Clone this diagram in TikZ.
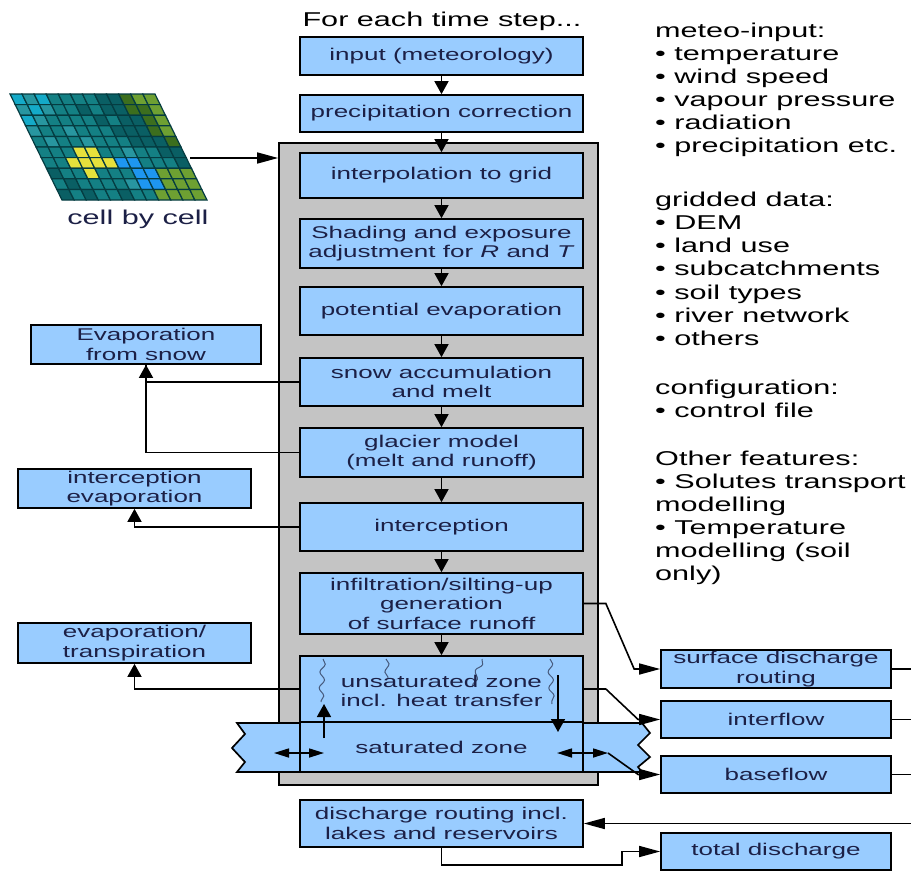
\documentclass[tikz,border=0pt]{standalone}
\usepackage{fontspec}
\setmainfont{Liberation Sans}[FakeStretch=1.53]
\usetikzlibrary{arrows.meta,decorations.pathmorphing,calc}
\definecolor{boxblue}{RGB}{153,204,255}
\definecolor{boxtext}{RGB}{28,32,70}
\definecolor{graybg}{RGB}{196,196,196}
\definecolor{wavecol}{RGB}{70,90,125}
\definecolor{gline}{RGB}{5,60,65}
\definecolor{cC}{RGB}{20,170,200}
\definecolor{cL}{RGB}{40,150,160}
\definecolor{cT}{RGB}{20,128,132}
\definecolor{cD}{RGB}{10,95,100}
\definecolor{cO}{RGB}{60,110,30}
\definecolor{cG}{RGB}{110,160,50}
\definecolor{cY}{RGB}{230,225,60}
\definecolor{cB}{RGB}{30,150,240}
\newcommand\gcell[3]{\filldraw[fill=c#3, draw=gline, line width=1.2pt] ({10+#1*12.08+#2*5.2},{94+#2*10.6}) -- ++(12.08,0) -- ++(5.2,10.6) -- ++(-12.08,0) -- cycle;}
\begin{document}
\begin{tikzpicture}[x=1pt,y=-1pt,line join=miter]
\tikzset{
 mbox/.style={draw=black, line width=1.7pt, fill=boxblue, text=boxtext, align=center, inner sep=0pt, font=\fontsize{17}{19.5}\selectfont, minimum width=283pt},
 lbox/.style={mbox, minimum width=233pt},
 rbox/.style={mbox, minimum width=230pt},
 conn/.style={line width=1.6pt, draw=black},
 varr/.style={conn, -{Triangle[length=13pt,width=14pt]}},
 harr/.style={conn, -{Triangle[length=21pt,width=11pt]}},
 darr/.style={conn, {Triangle[length=15pt,width=9pt]}-{Triangle[length=15pt,width=9pt]}},
 wave/.style={draw=wavecol, line width=1pt, decorate, decoration={snake, amplitude=2.5pt, segment length=16pt}},
 listtxt/.style={anchor=base west, inner sep=0pt, font=\fontsize{20}{23}\selectfont, text=black},
}
\useasboundingbox (0,0) rectangle (911,873);
\fill[white] (0,0) rectangle (911,873);

% title
\node[anchor=base, inner sep=0pt, font=\fontsize{20}{23}\selectfont] (title) at (442,26) {For each time step...};

% grid image
\foreach \c [count=\i from 0] in {C,L,C,T,T,T,T,D,D,O,G,G} {\gcell{\i}{0}{\c}}
\foreach \c [count=\i from 0] in {L,C,L,T,T,D,T,D,D,O,O,G} {\gcell{\i}{1}{\c}}
\foreach \c [count=\i from 0] in {C,L,T,T,T,T,D,T,D,D,O,G} {\gcell{\i}{2}{\c}}
\foreach \c [count=\i from 0] in {L,T,T,L,T,T,T,D,D,D,O,G} {\gcell{\i}{3}{\c}}
\foreach \c [count=\i from 0] in {T,L,T,T,L,T,T,T,D,D,D,O} {\gcell{\i}{4}{\c}}
\foreach \c [count=\i from 0] in {T,T,T,Y,Y,T,T,L,T,T,D,D} {\gcell{\i}{5}{\c}}
\foreach \c [count=\i from 0] in {T,T,Y,Y,Y,Y,B,B,T,T,T,D} {\gcell{\i}{6}{\c}}
\foreach \c [count=\i from 0] in {D,T,T,Y,T,T,T,B,B,G,G,G} {\gcell{\i}{7}{\c}}
\foreach \c [count=\i from 0] in {T,D,T,T,T,T,L,B,B,G,G,G} {\gcell{\i}{8}{\c}}
\foreach \c [count=\i from 0] in {D,T,D,T,T,D,T,T,G,G,G,G} {\gcell{\i}{9}{\c}}
\node[anchor=base, inner sep=0pt, font=\fontsize{20}{23}\selectfont, text=boxtext] (cbc) at (138,224) {cell by cell};

% container
\node[draw=black, line width=1.7pt, fill=graybg, minimum width=319pt, minimum height=642pt, inner sep=0pt] (cont) at (438.5,464) {};

% main boxes
\node[mbox, minimum height=38pt] (inp) at (441.5,56) {input (meteorology)};
\node[mbox, minimum height=37pt] (prc) at (441.5,113.5) {precipitation correction};
\node[mbox, minimum height=45pt] (itp) at (441.5,175.5) {interpolation to grid};
\node[mbox, minimum height=49pt] (shd) at (441.5,243.5) {Shading and exposure\\adjustment for \textit{R} and \textit{T}};
\node[mbox, minimum height=48pt] (pev) at (441.5,311) {potential evaporation};
\node[mbox, minimum height=48pt] (snw) at (441.5,382) {snow accumulation\\and melt};
\node[mbox, minimum height=49pt] (glc) at (441.5,452.5) {glacier model\\(melt and runoff)};
\node[mbox, minimum height=48pt] (icp) at (441.5,527) {interception};
\node[mbox, minimum height=61pt] (inf) at (441.5,603.5) {infiltration/silting-up\\generation\\of surface runoff};

% saturated band
\filldraw[fill=boxblue, draw=black, line width=1.7pt] (237,723) -- (642,723) -- (650,733) -- (638,745) -- (650,757) -- (638,767) -- (642,772) -- (237,772) -- (245,762) -- (232,748) -- (245,734) -- cycle;
\node[mbox, minimum height=50pt] (sat) at (441.5,747) {saturated zone};
\node[mbox, minimum height=66pt] (uns) at (441.5,689) {};
\draw[wave] (323,659) -- (321,702);
\draw[wave] (386,659) -- (388,678);
\draw[wave] (482,659) -- (472,687);
\draw[wave] (550,659) -- (552,704);
\node[text=boxtext, align=center, inner sep=0pt, font=\fontsize{17}{19.5}\selectfont] (unstxt) at (441.5,691) {unsaturated zone\\incl. heat transfer};

\node[mbox, minimum height=47pt] (dis) at (441.5,823.5) {discharge routing incl.\\lakes and reservoirs};

% left boxes
\node[lbox, minimum width=230pt, minimum height=39pt] (evs) at (146,344.5) {Evaporation\\from snow};
\node[lbox, minimum height=39pt] (iev) at (134.5,488.5) {interception\\evaporation};
\node[lbox, minimum height=40pt] (evt) at (134.5,643) {evaporation/\\transpiration};

% right boxes
\node[rbox, minimum height=38pt] (sdr) at (776,669) {surface discharge\\routing};
\node[rbox, minimum height=37pt] (ifl) at (776,719.5) {interflow};
\node[rbox, minimum height=37pt] (bfl) at (776,774.5) {baseflow};
\node[rbox, minimum height=37pt] (tot) at (776,851.5) {total discharge};

% main chain arrows
\draw[varr] (inp) -- (prc);
\draw[varr] (prc) -- (itp);
\draw[varr] (itp) -- (shd);
\draw[varr] (shd) -- (pev);
\draw[varr] (pev) -- (snw);
\draw[varr] (snw) -- (glc);
\draw[varr] (glc) -- (icp);
\draw[varr] (icp) -- (inf);
\draw[varr] (inf) -- (uns);

% grid to container
\coordinate (gR) at (190,158);
\draw[harr] (gR) -- (gR -| cont.west);

% left connectors
\draw[conn] (glc.west) -| (evs.south);
\draw[varr] (snw.west) -| (evs.south);
\draw[varr] (icp.west) -| (iev.south);
\draw[varr] (uns.west) -| (evt.south);

% inner arrows
\coordinate (upS) at (324,738);
\coordinate (upE) at (324,704);
\coordinate (dnS) at (558,675);
\coordinate (dnE) at (558,732);
\coordinate (lA) at (274,753);
\coordinate (lB) at (324,753);
\coordinate (rA) at (557,753);
\coordinate (rB) at (608,753);
\draw[varr] (upS) -- (upE);
\draw[varr] (dnS) -- (dnE);
\draw[darr] (lA) -- (lB);
\draw[darr] (rA) -- (rB);

% right connectors
\draw[harr] (inf.east) -- ++(22,0) -- ($(sdr.west)+(-26,0)$) -- (sdr.west);
\draw[harr] (uns.east) -- ++(22,0) -- ($(ifl.west)+(-22,0)$) -- (ifl.west);
\draw[harr] (rB) -- ($(bfl.west)+(-22,0)$) -- (bfl.west);

\coordinate (e1) at (911,669);
\coordinate (e2) at (911,719.5);
\coordinate (e3) at (911,774.5);
\coordinate (e4) at (911,823.5);
\draw[conn] (sdr.east) -- (e1);
\draw[conn] (ifl.east) -- (e2);
\draw[conn] (bfl.east) -- (e3);
\draw[harr] (e4) -- (dis.east);
\coordinate (knee) at (622,865);
\draw[harr] (dis.south) |- (knee) |- (tot.west);

% right list
\node[listtxt] (l1) at (655,37) {meteo-input:};
\node[listtxt] (l2) at (655,60) {• temperature};
\node[listtxt] (l3) at (655,83) {• wind speed};
\node[listtxt] (l4) at (655,106) {• vapour pressure};
\node[listtxt] (l5) at (655,129) {• radiation};
\node[listtxt] (l6) at (655,152) {• precipitation etc.};
\node[listtxt] (l7) at (655,206) {gridded data:};
\node[listtxt] (l8) at (655,229.3) {• DEM};
\node[listtxt] (l9) at (655,252.6) {• land use};
\node[listtxt] (l10) at (655,275.9) {• subcatchments};
\node[listtxt] (l11) at (655,299.2) {• soil types};
\node[listtxt] (l12) at (655,322.5) {• river network};
\node[listtxt] (l13) at (655,345.8) {• others};
\node[listtxt] (l14) at (655,394) {configuration:};
\node[listtxt] (l15) at (655,417) {• control file};
\node[listtxt] (l16) at (655,465) {Other features:};
\node[listtxt] (l17) at (655,488) {• Solutes transport};
\node[listtxt] (l18) at (655,511) {modelling};
\node[listtxt] (l19) at (655,534) {• Temperature};
\node[listtxt] (l20) at (655,557) {modelling (soil};
\node[listtxt] (l21) at (655,580) {only)};
\end{tikzpicture}
\end{document}
